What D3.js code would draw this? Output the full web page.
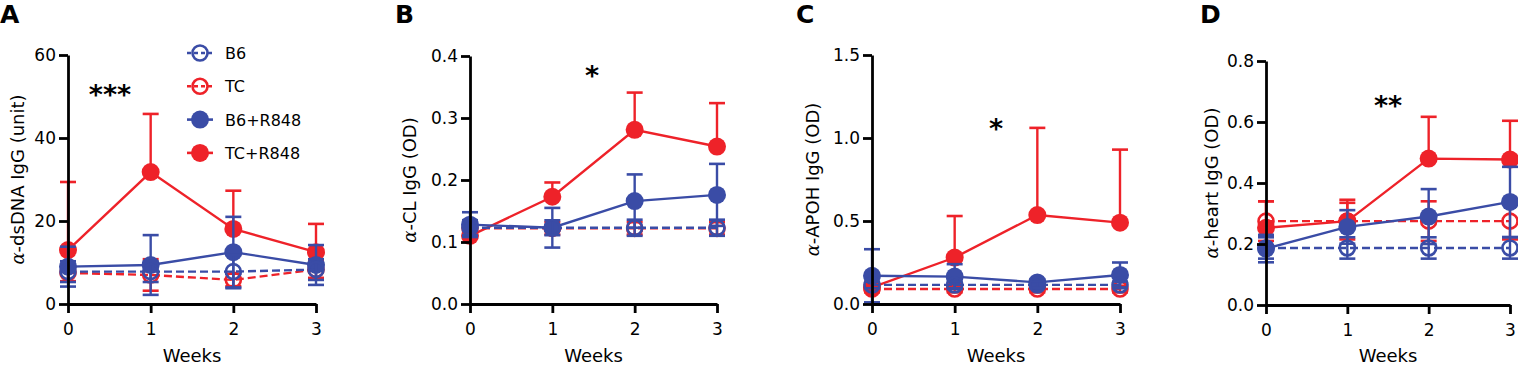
<!DOCTYPE html>
<html>
<head>
<meta charset="utf-8">
<script src="https://cdn.jsdelivr.net/npm/d3@7"></script>
<style>
  body { margin: 0; background: #fff; }
  svg { display: block; font-family: "DejaVu Sans", sans-serif; }
</style>
</head>
<body>
<div id="chart"></div>
<script>
// anti-autoantibody IgG over weeks, four panels
const weeks = [0, 1, 2, 3];
const groupNames = ["B6", "TC", "B6+R848", "TC+R848"];
const panelLetters = ["A", "B", "C", "D"];
const yTitles = ["-dsDNA IgG (unit)", "-CL IgG (OD)", "-APOH IgG (OD)", "-heart IgG (OD)"];
const yTicksA = [0, 20, 40, 60];
const yTicksB = [0, 0.1, 0.2, 0.3, 0.4];
const yTicksC = [0, 0.5, 1.0, 1.5];
const yTicksD = [0, 0.2, 0.4, 0.6, 0.8];
const stars = ["***", "*", "*", "**"];

// A: dsDNA
const dsdnaB6 = [7.8, 7.8, 7.8, 8.3];
const dsdnaB6Err = [2.5, 2.5, 4.0, 2.5];
const dsdnaTC = [7.5, 7.0, 5.8, 8.3];
const dsdnaTCErr = [2.0, 3.8, 1.5, 2.0];
const dsdnaB6R = [9.0, 9.4, 12.5, 9.4];
const dsdnaB6RErr = [4.8, 7.2, 8.5, 4.8];
const dsdnaTCR = [13.0, 31.8, 18.1, 12.5];
const dsdnaTCRErr = [16.4, 14.0, 9.2, 6.8];

// B: cardiolipin
const clB6 = [0.123, 0.123, 0.123, 0.123];
const clB6Err = [0.012, 0.012, 0.013, 0.013];
const clTC = [0.122, 0.122, 0.122, 0.122];
const clTCErr = [0.01, 0.01, 0.01, 0.01];
const clB6R = [0.128, 0.123, 0.166, 0.176];
const clB6RErr = [0.02, 0.032, 0.043, 0.05];
const clTCR = [0.11, 0.173, 0.281, 0.254];
const clTCRErr = [0.01, 0.023, 0.06, 0.07];

// C: APOH
const apohB6 = [0.115, 0.115, 0.115, 0.115];
const apohB6Err = [0.02, 0.02, 0.02, 0.02];
const apohTC = [0.09, 0.09, 0.09, 0.09];
const apohTCErr = [0.02, 0.02, 0.02, 0.02];
const apohB6R = [0.17, 0.165, 0.13, 0.175];
const apohB6RErr = [0.16, 0.075, 0.02, 0.075];
const apohTCR = [0.1, 0.28, 0.536, 0.49];
const apohTCRErr = [0.02, 0.25, 0.525, 0.44];

// D: heart
const heartB6 = [0.187, 0.187, 0.187, 0.187];
const heartB6Err = [0.035, 0.035, 0.035, 0.035];
const heartTC = [0.275, 0.275, 0.275, 0.275];
const heartTCErr = [0.065, 0.06, 0.065, 0.06];
const heartB6R = [0.185, 0.256, 0.29, 0.338];
const heartB6RErr = [0.045, 0.055, 0.09, 0.115];
const heartTCR = [0.253, 0.275, 0.48, 0.477];
const heartTCRErr = [0.087, 0.07, 0.137, 0.127];

const blue = "#3a4ca6";
const red = "#ee2229";

const w = 1518, h = 366;
const svg = d3.select("#chart").append("svg")
  .attr("width", w)
  .attr("height", h);
svg.append("rect").attr("width", w).attr("height", h).attr("fill", "#fff");

// layout per panel
const panels = [
  { x0: 68, x3: 316, top: 55, bottom: 304, letterX: 0, titleOff: 44, star: [110, 104], ticks: yTicksA, fmt: d3.format("d"),
    series: [[dsdnaB6, dsdnaB6Err], [dsdnaTC, dsdnaTCErr], [dsdnaB6R, dsdnaB6RErr], [dsdnaTCR, dsdnaTCRErr]] },
  { x0: 470, x3: 717, top: 56, bottom: 304, letterX: 395, titleOff: 54, star: [592, 85], ticks: yTicksB, fmt: d3.format(".1f"),
    series: [[clB6, clB6Err], [clTC, clTCErr], [clB6R, clB6RErr], [clTCR, clTCRErr]] },
  { x0: 872, x3: 1120, top: 55, bottom: 304, letterX: 796, titleOff: 53, star: [996, 138], ticks: yTicksC, fmt: d3.format(".1f"),
    series: [[apohB6, apohB6Err], [apohTC, apohTCErr], [apohB6R, apohB6RErr], [apohTCR, apohTCRErr]] },
  { x0: 1266, x3: 1510, top: 61, bottom: 305, letterX: 1200, titleOff: 48, star: [1388, 115], ticks: yTicksD, fmt: d3.format(".1f"),
    series: [[heartB6, heartB6Err], [heartTC, heartTCErr], [heartB6R, heartB6RErr], [heartTCR, heartTCRErr]] }
];

// group styling: open/filled, colour, which error directions
const groupStyle = [
  { color: blue, open: true, dash: "8,4", lower: true },
  { color: red, open: true, dash: "8,4", lower: true },
  { color: blue, open: false, dash: null, lower: true },
  { color: red, open: false, dash: null, lower: false }
];
const drawOrder = [3, 1, 2, 0];

function drawMarker(g, cx, cy, st) {
  if (st.open) {
    g.append("circle").attr("cx", cx).attr("cy", cy).attr("r", 7.5)
      .attr("fill", "none").attr("stroke", st.color).attr("stroke-width", 2.6);
  } else {
    g.append("circle").attr("cx", cx).attr("cy", cy).attr("r", 9)
      .attr("fill", st.color);
  }
}

panels.forEach((p, i) => {
  const g = svg.append("g");
  const x = d3.scaleLinear().domain([0, 3]).range([p.x0, p.x3]);
  const y = d3.scaleLinear().domain([0, d3.max(p.ticks)]).range([p.bottom, p.top]);

  // data
  drawOrder.forEach(k => {
    const st = groupStyle[k];
    const vals = p.series[k][0];
    const errs = p.series[k][1];
    const lg = g.append("g");
    lg.append("path")
      .datum(weeks)
      .attr("d", d3.line().x(d => x(d)).y((d, j) => y(vals[j])))
      .attr("fill", "none")
      .attr("stroke", st.color)
      .attr("stroke-width", 2.4)
      .attr("stroke-dasharray", st.dash);
    weeks.forEach((wk, j) => {
      const cx = x(wk);
      const hi = y(vals[j] + errs[j]);
      const lo = st.lower ? y(Math.max(0, vals[j] - errs[j])) : y(vals[j]);
      lg.append("line").attr("x1", cx).attr("x2", cx).attr("y1", hi).attr("y2", lo)
        .attr("stroke", st.color).attr("stroke-width", 2.4);
      lg.append("line").attr("x1", cx - 8).attr("x2", cx + 8).attr("y1", hi).attr("y2", hi)
        .attr("stroke", st.color).attr("stroke-width", 2.6);
      if (st.lower) {
        lg.append("line").attr("x1", cx - 8).attr("x2", cx + 8).attr("y1", lo).attr("y2", lo)
          .attr("stroke", st.color).attr("stroke-width", 2.6);
      }
      drawMarker(lg, cx, y(vals[j]), st);
    });
  });

  // axes
  const xAxis = g.append("g")
    .attr("transform", `translate(0,${p.bottom})`)
    .call(d3.axisBottom(x).tickValues(weeks).tickSize(9).tickSizeOuter(0).tickPadding(10).tickFormat(d3.format("d")));
  const yAxis = g.append("g")
    .attr("transform", `translate(${p.x0},0)`)
    .call(d3.axisLeft(y).tickValues(p.ticks).tickSize(9).tickSizeOuter(0).tickPadding(3).tickFormat(p.fmt));
  [xAxis, yAxis].forEach(a => {
    a.selectAll("path, line").attr("stroke", "#000").attr("stroke-width", 2.8);
    a.selectAll("text").attr("fill", "#000")
      .style("font-family", "DejaVu Sans").style("font-size", "17px");
  });

  g.append("text")
    .attr("x", (p.x0 + p.x3) / 2)
    .attr("y", 362)
    .attr("text-anchor", "middle")
    .style("font-size", "18px")
    .text("Weeks");

  const yt = g.append("text")
    .attr("transform", `translate(${p.x0 - p.titleOff},${(p.top + p.bottom) / 2}) rotate(-90)`)
    .attr("text-anchor", "middle")
    .style("font-size", "18px");
  yt.append("tspan").style("font-style", "italic").attr("font-family", "DejaVu Serif").text("α");
  yt.append("tspan").text(yTitles[i]);

  g.append("text")
    .attr("x", p.letterX)
    .attr("y", 23)
    .style("font-size", "25px")
    .style("font-weight", "bold")
    .text(panelLetters[i]);

  g.append("text")
    .attr("x", p.star[0])
    .attr("y", p.star[1])
    .attr("text-anchor", "middle")
    .style("font-size", "27px")
    .style("font-weight", "bold")
    .text(stars[i]);
});

// legend in panel A
const legend = svg.append("g");
groupNames.forEach((name, k) => {
  const st = groupStyle[k];
  const ly = 53 + k * 33.3;
  legend.append("line").attr("x1", 187).attr("x2", 213).attr("y1", ly).attr("y2", ly)
    .attr("stroke", st.color).attr("stroke-width", 2.6)
    .attr("stroke-dasharray", st.open ? "4,3" : null);
  drawMarker(legend, 200, ly, st);
  legend.append("text").attr("x", 225).attr("y", ly + 6)
    .style("font-size", "16px")
    .text(name);
});
</script>
</body>
</html>
